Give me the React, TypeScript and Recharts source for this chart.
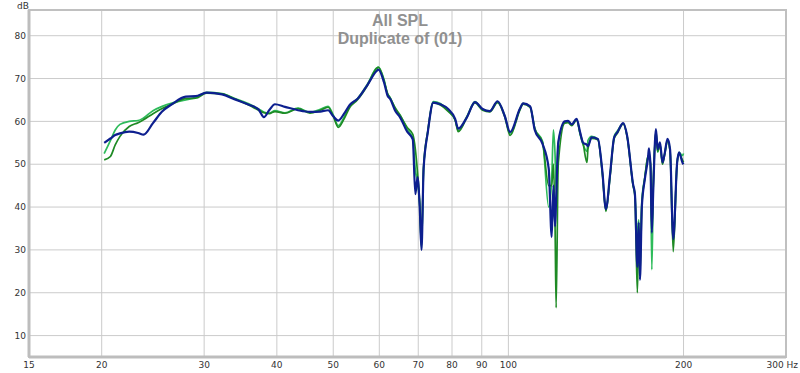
import React from 'react';
import { LineChart, Line, XAxis, YAxis, CartesianGrid, ReferenceArea } from 'recharts';

// frequency points (Hz) shared by the three traces
const freqs = [
  20.2, 20.7, 21.1, 21.5, 22.3, 23.1, 23.6, 24.5, 25.4, 26.4, 27.9, 29.0, 30.3, 32.2, 33.8, 35.8, 37.2, 38.0, 38.8, 39.7,
  41.3, 43.5, 45.6, 47.5, 49.0, 50.0, 51.0, 52.2, 53.4, 55.0, 57.3, 59.3, 59.8, 61.1, 62.0, 62.6, 64.0, 65.1, 67.0, 68.5,
  69.2, 69.8, 70.4, 70.9, 71.5, 72.7, 74.3, 76.4, 78.8, 81.0, 82.0, 84.9, 87.6, 90.3, 92.9, 95.8, 98.6, 100.7, 104.7, 106,
  109, 111, 114.5, 117.3, 118.7, 119.5, 120.3, 120.8, 121.8, 125, 126.6, 128.5, 131, 132.8, 134.4, 136.5, 137, 139, 142.5, 145,
  147.1, 149.5, 152, 154, 157.5, 160, 163.8, 165, 166.6, 167.5, 168.3, 169.6, 171.6, 173.8, 174.4, 175.5, 176.4, 177.5, 179.3, 180.5,
  182.2, 184, 185.5, 187.7, 189.6, 192.0, 195, 196.5, 199.1, 200,
];

const navySpl = [
  55.0, 56.0, 56.8, 57.2, 57.6, 57.3, 56.9, 59.6, 62.3, 64.0, 65.8, 65.9, 66.7, 66.3, 65.2, 63.9, 62.8, 61.0, 62.6, 64.0,
  63.4, 62.6, 62.2, 62.3, 62.6, 61.2, 60.2, 61.8, 63.9, 65.2, 68.6, 71.7, 72.1, 69.2, 66.0, 65.3, 62.3, 61.0, 57.6, 55.8,
  43.0, 47.0, 40.0, 30.0, 49.0, 57.5, 64.4, 64.0, 62.9, 60.6, 58.3, 61.0, 64.5, 62.9, 62.4, 64.7, 61.2, 57.5, 63.0, 64.2,
  63.5, 58.0, 54.7, 49.0, 33.0, 45.0, 35.5, 42.0, 55.0, 60.0, 60.1, 59.3, 60.6, 57.5, 55.0, 54.5, 54.2, 56.3, 55.9, 48.5,
  39.5, 47.5, 56.3, 57.5, 59.6, 56.6, 45.3, 43.0, 26.0, 36.4, 23.0, 40.2, 46.5, 51.6, 53.7, 49.5, 34.0, 45.0, 58.2, 53.5,
  55.1, 50.4, 52.3, 55.9, 53.5, 32.5, 50.4, 52.8, 50.4, 50.0,
];

const darkGreenSpl = [
  51.0, 51.8, 54.5, 56.5, 58.8, 59.7, 60.4, 61.8, 63.0, 64.0, 65.3, 65.4, 66.6, 66.4, 65.3, 63.8, 62.6, 62.0, 61.8, 62.3,
  61.9, 63.0, 61.9, 62.6, 63.3, 61.2, 58.6, 60.6, 63.3, 65.0, 68.5, 72.3, 72.6, 69.6, 66.5, 65.5, 63.0, 61.5, 58.6, 57.0,
  53.5, 48.0, 41.0, 31.0, 49.5, 57.8, 64.3, 63.8, 62.3, 60.3, 57.6, 61.0, 64.3, 62.6, 62.2, 64.4, 61.0, 56.7, 62.7, 64.0,
  63.3, 58.3, 55.0, 45.0, 45.0, 50.0, 35.0, 16.5, 50.0, 59.6, 59.7, 59.0, 60.3, 57.3, 54.8, 50.4, 53.5, 56.0, 55.7, 48.0,
  39.0, 47.0, 56.0, 57.3, 59.4, 56.4, 45.0, 42.5, 20.0, 35.0, 24.0, 40.5, 46.8, 52.0, 51.5, 50.0, 35.0, 46.0, 57.8, 53.0,
  54.5, 50.0, 52.0, 55.5, 53.0, 29.6, 50.5, 52.5, 51.0, 50.5,
];

const lightGreenSpl = [
  52.5, 55.5, 58.0, 59.3, 60.0, 60.2, 60.8, 62.5, 63.5, 64.3, 65.0, 65.6, 66.8, 66.5, 65.4, 64.1, 62.9, 62.2, 61.9, 62.5,
  62.0, 63.1, 62.1, 62.8, 63.5, 61.5, 59.0, 61.0, 63.6, 65.3, 68.8, 72.4, 72.7, 69.9, 66.4, 65.6, 62.8, 61.5, 58.2, 56.0,
  48.5, 46.0, 40.5, 30.5, 49.0, 57.6, 64.6, 64.2, 62.5, 60.4, 57.8, 61.2, 64.6, 62.8, 62.4, 64.6, 61.3, 57.0, 63.0, 64.2,
  63.4, 58.4, 55.3, 40.0, 46.5, 58.0, 52.0, 44.0, 55.0, 59.8, 60.0, 59.2, 60.5, 57.0, 54.6, 53.0, 55.5, 56.5, 55.8, 48.3,
  39.2, 47.3, 56.5, 57.8, 59.5, 56.5, 45.1, 43.0, 33.0, 37.0, 30.0, 41.5, 47.0, 51.8, 52.0, 50.2, 25.4, 46.0, 57.5, 52.8,
  54.5, 50.5, 52.3, 55.6, 53.2, 32.0, 50.3, 52.8, 52.0, 52.5,
];

const xTicks = [15, 20, 30, 40, 50, 60, 70, 80, 90, 100, 200, 300];
const yTicks = [10, 20, 30, 40, 50, 60, 70, 80];

const chartData = freqs.map((f, i) => ({
  freq: f,
  navy: navySpl[i],
  dark: darkGreenSpl[i],
  light: lightGreenSpl[i],
}));

const tickStyle = { fontSize: 9, fill: '#333', fontFamily: 'DejaVu Sans, sans-serif' };

const titleStyle = {
  position: 'absolute',
  left: 0,
  width: 800,
  textAlign: 'center',
  fontFamily: 'Liberation Sans, Arial, sans-serif',
  fontWeight: 700,
  fontSize: 16,
  lineHeight: '18px',
  color: '#909090',
};

// x tick: the last one carries the unit and is pulled inside the frame
function FreqTick({ x, y, payload }) {
  const last = payload.value === 300;
  return (
    <text
      x={last ? 798 : x}
      y={y}
      dy="0.71em"
      textAnchor={last ? 'end' : 'middle'}
      {...tickStyle}
    >
      {last ? '300 Hz' : payload.value}
    </text>
  );
}

export default function App() {
  return (
    <div style={{ position: 'absolute', left: 0, top: 0, width: 800, height: 373, background: '#fff' }}>
      <LineChart
        width={800}
        height={373}
        data={chartData}
        margin={{ top: 10, right: 14, bottom: 0, left: 0 }}
      >
        <CartesianGrid stroke="#cbcbcb" strokeWidth={1} />
        <ReferenceArea x1={15} x2={300} y1={5} y2={86} fill="none" stroke="#c0c0c0" strokeWidth={2} />
        <XAxis
          dataKey="freq"
          type="number"
          scale="log"
          domain={[15, 300]}
          ticks={xTicks}
          allowDataOverflow
          height={16}
          tickLine={false}
          tickSize={3}
          axisLine={{ stroke: '#bdbdbd', strokeWidth: 3 }}
          tick={<FreqTick />}
        />
        <YAxis
          type="number"
          domain={[5, 86]}
          ticks={yTicks}
          allowDataOverflow
          width={29}
          tickLine={false}
          tickSize={1}
          axisLine={{ stroke: '#bdbdbd', strokeWidth: 3 }}
          tick={tickStyle}
        />
        <Line type="monotone" dataKey="light" stroke="#2dbb5a" strokeWidth={1.7} dot={false} isAnimationActive={false} />
        <Line type="monotone" dataKey="dark" stroke="#1e8a24" strokeWidth={1.7} dot={false} isAnimationActive={false} />
        <Line type="monotone" dataKey="navy" stroke="#0d1f8f" strokeWidth={2.2} dot={false} isAnimationActive={false} />
      </LineChart>
      <div style={{ position: 'absolute', left: 17, top: 1, fontSize: 9, color: '#333', fontFamily: 'DejaVu Sans, sans-serif' }}>dB</div>
      <div style={{ ...titleStyle, top: 12 }}>All SPL</div>
      <div style={{ ...titleStyle, top: 30 }}>Duplicate of (01)</div>
    </div>
  );
}
